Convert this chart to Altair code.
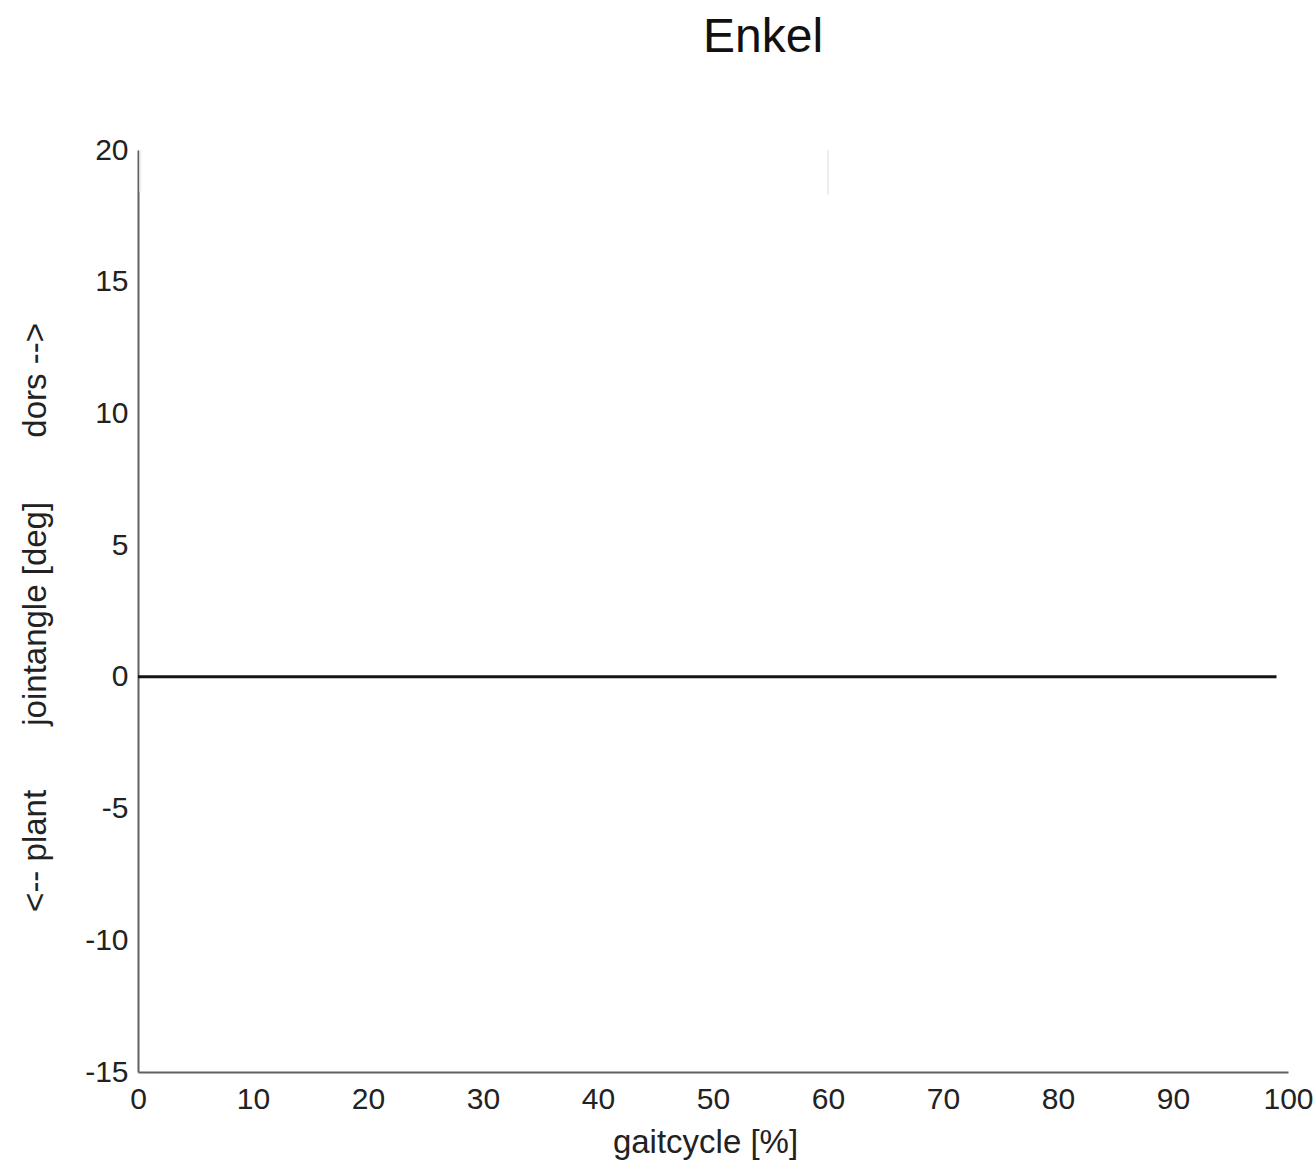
import altair as alt
import pandas as pd

# Gait cycle samples (percent) and ankle joint angle (degrees)
gait_pct = list(range(0, 100))
joint_angle = [0.0] * 100

# Faint vertical markers near the top of the plot
marker_x = [0.2, 60]
marker_top = [20, 20]
marker_bottom = [18.4, 18.3]

x_ticks = [0, 10, 20, 30, 40, 50, 60, 70, 80, 90, 100]
y_ticks = [-15, -10, -5, 0, 5, 10, 15, 20]

curve = pd.DataFrame({"gait": gait_pct, "angle": joint_angle})
markers = pd.DataFrame({"x": marker_x, "y": marker_top, "y2": marker_bottom})

FONT = "Liberation Sans"
SP = "\u00a0" * 7

x_scale = alt.Scale(domain=[0, 100], nice=False, zero=False)
y_scale = alt.Scale(domain=[-15, 20], nice=False, zero=False)

x_axis = alt.Axis(
    values=x_ticks,
    title="gaitcycle [%]",
    grid=False,
    ticks=False,
    labelPadding=12,
    labelFontSize=30,
    labelFont=FONT,
    labelColor="#222222",
    labelFlush=False,
    titleFont=FONT,
    titleFontSize=33,
    titleFontWeight="normal",
    titleColor="#222222",
    titleX=567,
    titleY=80,
    titleBaseline="alphabetic",
    domainColor="#606060",
    domainWidth=2,
)

y_axis = alt.Axis(
    values=y_ticks,
    labelExpr="datum.value + ''",
    title=f"<-- plant{SP}jointangle [deg]{SP}dors -->",
    grid=False,
    ticks=False,
    labelPadding=10,
    labelFontSize=30,
    labelFont=FONT,
    labelColor="#222222",
    labelFlush=False,
    titleFont=FONT,
    titleFontSize=33,
    titleFontWeight="normal",
    titleColor="#222222",
    titleAngle=-90,
    titleX=-103,
    titleY=467,
    titleAlign="center",
    titleBaseline="middle",
    domainColor="#606060",
    domainWidth=2,
)

faint = alt.Chart(markers).mark_rule(color="#eeeeee", strokeWidth=2).encode(
    x=alt.X("x:Q", scale=x_scale, axis=x_axis),
    y=alt.Y("y:Q", scale=y_scale, axis=y_axis),
    y2="y2:Q",
)

line = alt.Chart(curve).mark_line(color="#141414", strokeWidth=3).encode(
    x=alt.X("gait:Q", scale=x_scale, axis=x_axis),
    y=alt.Y("angle:Q", scale=y_scale, axis=y_axis),
)

chart = (
    alt.layer(faint, line)
    .properties(
        width=1150,
        height=922,
        autosize=alt.AutoSizeParams(type="none"),
        padding={"left": 138, "top": 150, "right": 26, "bottom": 94},
        title=alt.TitleParams(
            "Enkel",
            font=FONT,
            fontSize=48,
            fontWeight="normal",
            color="#111111",
            anchor="middle",
            dx=50,
            baseline="alphabetic",
            offset=35,
        ),
        background="white",
    )
    .configure_view(stroke=None)
)

chart.save("out.html", embed_options={"renderer": "svg", "actions": False})
